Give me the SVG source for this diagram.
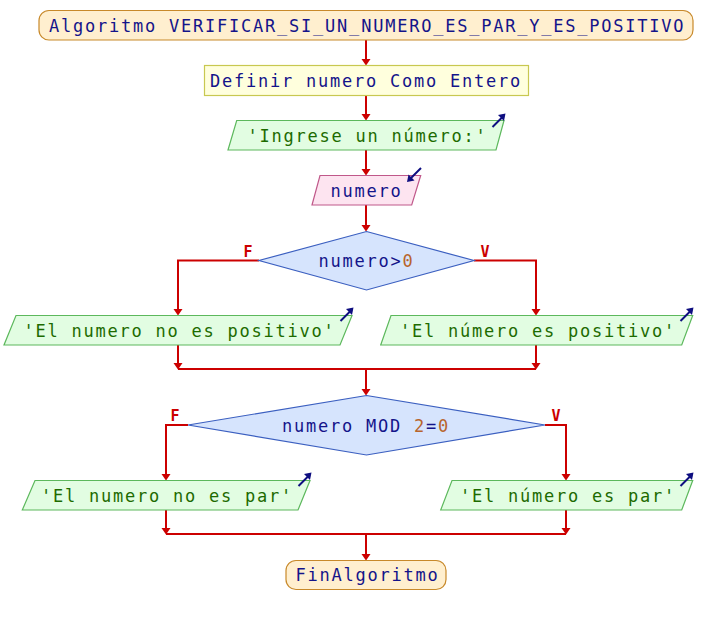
<svg xmlns="http://www.w3.org/2000/svg" width="718" height="625" viewBox="0 0 718 625">
<defs>
<style>
.t{font-family:"DejaVu Sans Mono","Liberation Mono",monospace;font-size:17px;letter-spacing:1.77px}
.id{fill:#14148a}
.str{fill:#1d6b00}
.num{fill:#b8642c}
.term{fill:#ffefcf;stroke:#c8892a;stroke-width:1.2}
.proc{fill:#ffffdd;stroke:#c8c850;stroke-width:1.2}
.out{fill:#e2fde2;stroke:#5cb85c;stroke-width:1.2}
.inp{fill:#fde4f0;stroke:#c0588a;stroke-width:1.2}
.dec{fill:#d6e4fd;stroke:#3b5fc0;stroke-width:1.2}
.ico{stroke:#0e0e80;stroke-width:2;fill:none}
.icoh{fill:#0e0e80}
.c{stroke:#cc0000;stroke-width:2;fill:none}
.h{fill:#cc0000}
.lbl{font-family:"DejaVu Sans Mono","Liberation Mono",monospace;font-size:15px;font-weight:bold;fill:#cc0000}
</style>
</defs>
<rect width="718" height="625" fill="#ffffff"/>
<g id="connectors">
<path class="c" d="M366,40V60"/>
<path class="c" d="M366,95.5V115"/>
<path class="c" d="M366,150V170"/>
<path class="c" d="M366,205V226"/>
<path class="c" d="M259,260.5H178V310"/>
<path class="c" d="M474,260.5H536V310"/>
<path class="c" d="M178,345V364"/>
<path class="c" d="M536,345V364"/>
<path class="c" d="M178,369H536"/>
<path class="c" d="M366,369V390"/>
<path class="c" d="M188,425H166V475"/>
<path class="c" d="M545,425H566V475"/>
<path class="c" d="M166,510V529"/>
<path class="c" d="M566,510V529"/>
<path class="c" d="M166,534H566"/>
<path class="c" d="M366,534V555"/>
<g class="h">
<polygon points="361.5,59 370.5,59 366,65.5"/>
<polygon points="361.5,114 370.5,114 366,120.5"/>
<polygon points="361.5,169 370.5,169 366,175.5"/>
<polygon points="361.5,225 370.5,225 366,231.5"/>
<polygon points="173.5,309 182.5,309 178,315.5"/>
<polygon points="531.5,309 540.5,309 536,315.5"/>
<polygon points="173.5,363 182.5,363 178,369.5"/>
<polygon points="531.5,363 540.5,363 536,369.5"/>
<polygon points="361.5,389 370.5,389 366,395.5"/>
<polygon points="161.5,474 170.5,474 166,480.5"/>
<polygon points="561.5,474 570.5,474 566,480.5"/>
<polygon points="161.5,528 170.5,528 166,534.5"/>
<polygon points="561.5,528 570.5,528 566,534.5"/>
<polygon points="361.5,554 370.5,554 366,560.5"/>
</g>
<text class="lbl" x="248" y="257" text-anchor="middle">F</text>
<text class="lbl" x="485" y="257" text-anchor="middle">V</text>
<text class="lbl" x="175" y="421" text-anchor="middle">F</text>
<text class="lbl" x="556" y="421" text-anchor="middle">V</text>
</g>
<g id="start">
<rect class="term" x="39" y="10.5" width="654" height="29.5" rx="10"/>
<text class="t id" x="49" y="31.5">Algoritmo VERIFICAR_SI_UN_NUMERO_ES_PAR_Y_ES_POSITIVO</text>
</g>
<g id="definir">
<rect class="proc" x="204.5" y="65.5" width="324" height="30"/>
<text class="t id" x="210" y="87">Definir numero Como Entero</text>
</g>
<g id="ingrese">
<polygon class="out" points="236.7,120.5 504,120.5 496,150 228,150"/>
<text class="t str" x="247.5" y="141.5">'Ingrese un número:'</text>
<path class="ico" d="M492.5,127L502,117.5"/>
<polygon class="icoh" points="505.5,113.5 504,121 498,115"/>
</g>
<g id="leer">
<polygon class="inp" points="320,175.5 420.7,175.5 411.7,205 312,205"/>
<text class="t id" x="330.5" y="196.5">numero</text>
<path class="ico" d="M421,168L411,178"/>
<polygon class="icoh" points="407,182 408.5,174.5 414.5,180.5"/>
</g>
<g id="cond1">
<polygon class="dec" points="366.5,231.5 474,260.5 366.5,290 259,260.5"/>
<text class="t id" x="318.5" y="267">numero&gt;<tspan class="num">0</tspan></text>
</g>
<g id="nopos">
<polygon class="out" points="16,315.5 352,315.5 340,345 4,345"/>
<text class="t str" x="23.5" y="336.5">'El numero no es positivo'</text>
<path class="ico" d="M340.5,321L350,311.5"/>
<polygon class="icoh" points="353.5,307.5 352,315 346,309"/>
</g>
<g id="pos">
<polygon class="out" points="391,315.5 692.7,315.5 681.7,345 380.7,345"/>
<text class="t str" x="400" y="336.5">'El número es positivo'</text>
<path class="ico" d="M680.5,321L690,311.5"/>
<polygon class="icoh" points="693.5,307.5 692,315 686,309"/>
</g>
<g id="cond2">
<polygon class="dec" points="366.5,395.5 545,425 366.5,455 188,425"/>
<text class="t id" x="282" y="431.5">numero MOD <tspan class="num">2</tspan>=<tspan class="num">0</tspan></text>
</g>
<g id="nopar">
<polygon class="out" points="35,480.5 310,480.5 298,510 22.3,510"/>
<text class="t str" x="41" y="501.5">'El numero no es par'</text>
<path class="ico" d="M298.5,486L308,476.5"/>
<polygon class="icoh" points="311.5,472.5 310,480 304,474"/>
</g>
<g id="par">
<polygon class="out" points="452,480.5 692.7,480.5 681.7,510 440.7,510"/>
<text class="t str" x="460" y="501.5">'El número es par'</text>
<path class="ico" d="M680.5,486L690,476.5"/>
<polygon class="icoh" points="693.5,472.5 692,480 686,474"/>
</g>
<g id="end">
<rect class="term" x="286" y="560.5" width="160" height="29" rx="10"/>
<text class="t id" x="295.5" y="581">FinAlgoritmo</text>
</g>
</svg>
